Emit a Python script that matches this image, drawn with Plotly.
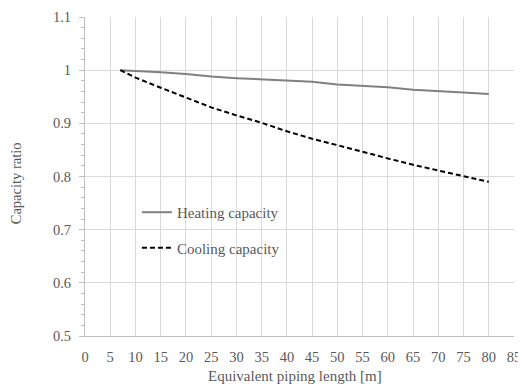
import plotly.graph_objects as go

length_m = [7, 10, 15, 20, 25, 30, 35, 40, 45, 50, 55, 60, 65, 70, 75, 80]
heating_capacity = [1.0, 0.998, 0.996, 0.993, 0.988, 0.985, 0.983, 0.981, 0.978, 0.973, 0.971, 0.968, 0.963, 0.961, 0.958, 0.955]
cooling_capacity = [1.0, 0.986, 0.967, 0.949, 0.930, 0.915, 0.901, 0.885, 0.871, 0.859, 0.846, 0.834, 0.822, 0.811, 0.800, 0.790]

x_ticks = list(range(0, 86, 5))
y_ticks = [0.5, 0.6, 0.7, 0.8, 0.9, 1.0, 1.1]
y_tick_text = ["0.5", "0.6", "0.7", "0.8", "0.9", "1", "1.1"]

FONT = "Liberation Serif, Times New Roman, serif"
TXT = "#595959"

fig = go.Figure()
fig.add_trace(go.Scatter(x=length_m, y=heating_capacity, mode="lines", name="Heating capacity",
                         legendgroup="h", line=dict(color="#808080", width=2)))
fig.add_trace(go.Scatter(x=length_m, y=cooling_capacity, mode="lines", name="Cooling capacity",
                         legendgroup="c", line=dict(color="#000000", width=2, dash="5px,3px")))

# white legend box covering gridlines
fig.add_shape(type="rect", xref="paper", yref="paper", x0=0.0886, x1=0.524, y0=0.2226, y1=0.442,
              fillcolor="white", line=dict(width=0), layer="below")

fig.add_annotation(text="Capacity ratio", xref="paper", yref="paper", x=-0.160, y=0.480,
                   textangle=-90, showarrow=False, xanchor="center", yanchor="middle",
                   font=dict(family=FONT, size=14.5, color=TXT))
fig.add_annotation(text="Equivalent piping length [m]", xref="paper", yref="paper", x=0.49, y=-0.125,
                   showarrow=False, xanchor="center", yanchor="middle",
                   font=dict(family=FONT, size=15, color=TXT))

fig.update_layout(
    template="none",
    width=518, height=380,
    margin=dict(l=77, r=12, t=9, b=52),
    paper_bgcolor="white", plot_bgcolor="white",
    font=dict(family=FONT, size=14.5, color=TXT),
    showlegend=True,
    legend=dict(x=0.121, y=0.439, xanchor="left", yanchor="top", bgcolor="rgba(0,0,0,0)",
                font=dict(family=FONT, size=15, color=TXT), tracegroupgap=13,
                traceorder="grouped", itemwidth=30),
    xaxis=dict(range=[0, 85], tickvals=x_ticks, ticktext=[str(v) for v in x_ticks],
               automargin=False, ticklabelstandoff=8, ticklabeloverflow="allow",
               showgrid=True, gridcolor="#d9d9d9", gridwidth=1,
               showline=True, linecolor="#bfbfbf", linewidth=1, zeroline=False,
               ticks="", ticklen=0),
    yaxis=dict(range=[0.5, 1.1], tickvals=y_ticks, ticktext=y_tick_text,
               automargin=False, ticklabelstandoff=5, ticklabeloverflow="allow",
               showgrid=True, gridcolor="#d9d9d9", gridwidth=1,
               showline=True, linecolor="#bfbfbf", linewidth=1, zeroline=False,
               ticks="outside", ticklen=5, tickcolor="#bfbfbf",
               minor=dict(dtick=0.02, ticks="outside", ticklen=3, tickcolor="#bfbfbf", showgrid=False)),
)

fig.write_html("out.html")
